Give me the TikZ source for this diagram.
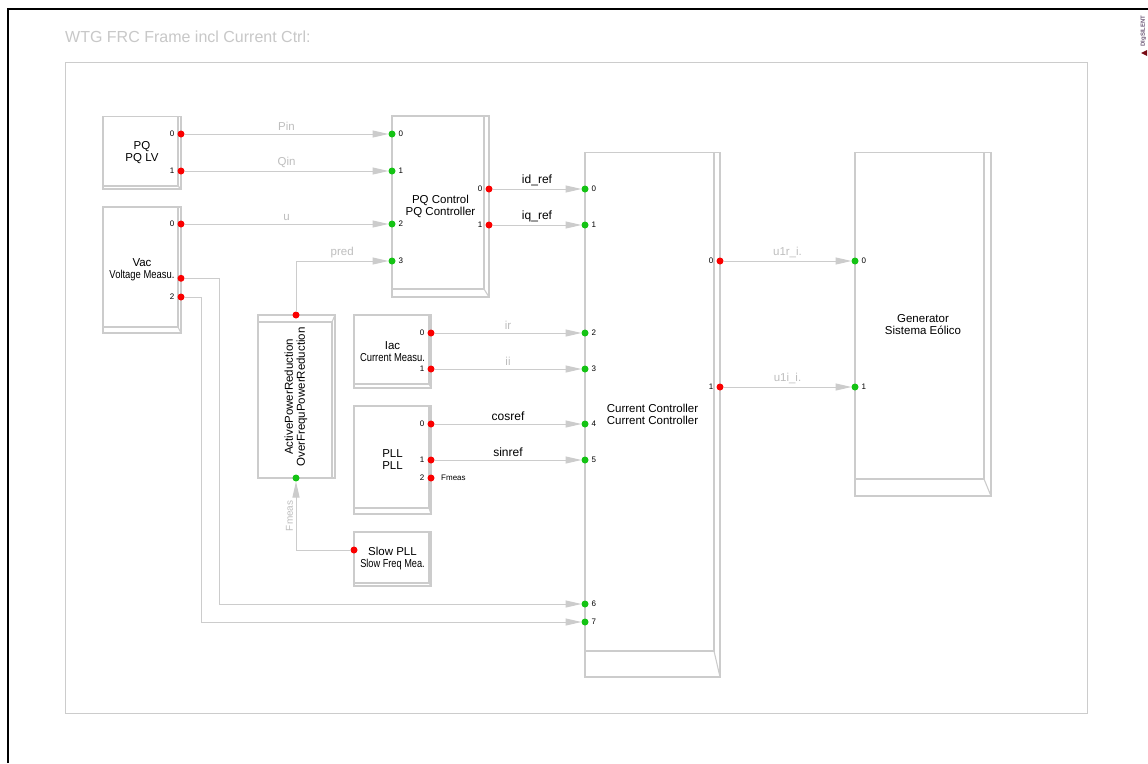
\documentclass[tikz,border=0pt]{standalone}
\usepackage{fontspec}
\setmainfont{Liberation Sans}
\usepackage{graphicx}
\usetikzlibrary{arrows.meta}
\definecolor{lgray}{RGB}{204,204,204}
\definecolor{tgray}{RGB}{190,190,190}
\definecolor{titlegray}{RGB}{200,200,200}
\definecolor{portred}{RGB}{250,0,0}
\definecolor{portgreen}{RGB}{20,195,20}
\definecolor{logored}{RGB}{120,10,20}
\definecolor{logotext}{RGB}{110,90,120}
\tikzset{
  blockbox/.style={draw=lgray, line width=1.3pt, rectangle, inner sep=0pt, outer sep=0pt, fill=white},
  bevel/.style={draw=lgray, line width=1.1pt},
  blocktext/.style={font=\fontsize{11.5}{12}\selectfont, align=center, inner sep=0pt, text=black},
  inport/.style={circle, fill=portgreen, minimum size=7pt, inner sep=0pt, outer sep=0pt},
  outport/.style={circle, fill=portred, minimum size=7pt, inner sep=0pt, outer sep=0pt},
  pnum/.style={font=\fontsize{8}{9}\selectfont, text=black, inner sep=0pt},
  conn/.style={draw=lgray, line width=1pt, -{Triangle[length=16pt,width=7pt]}},
  glbl/.style={above=3pt, inner sep=0pt, text=tgray, font=\fontsize{11.5}{12}\selectfont},
  blbl/.style={above=3pt, inner sep=0pt, text=black, font=\fontsize{12}{13}\selectfont},
}
\newcommand{\dsblock}[8]{%
  \node[blockbox, anchor=north west, minimum width={(#4-#2)*1pt}, minimum height={(#5-#3)*1pt}] (#1) at (#2,#3) {};
  \draw[bevel] ([xshift=-#6pt]#1.north east) -- ([xshift=-#6pt,yshift=#7pt]#1.south east) -- ([yshift=#7pt]#1.south west);
  \draw[bevel] ([xshift=-#6pt,yshift=#7pt]#1.south east) -- (#1.south east);
  \node[blocktext] (#1-text) at (#1.center) {#8};
}
\newcommand{\dsin}[4]{\node[inport, label={[pnum, label distance=3pt]right:#4}] (#1) at (#2,#3) {};}
\newcommand{\dsout}[4]{\node[outport, label={[pnum, label distance=3pt]left:#4}] (#1) at (#2,#3) {};}
\begin{document}
\begin{tikzpicture}[x=1pt,y=-1pt]
\useasboundingbox (0,0) rectangle (1148,763);
\fill[white] (0,0) rectangle (1148,763);
% page border
\draw[black, line width=2pt] (7.7,763) -- (7.7,9.3) -- (1148,9.3);
% logo
\node[rotate=90, font=\fontsize{6}{6}\selectfont\bfseries, text=logotext, inner sep=0pt] (logo) at (1143.5,31) {DIgSILENT};
\fill[logored] (1141,53) -- (1147,50) -- (1147,56) -- cycle;
% title
\node[anchor=base west, inner sep=0pt, text=titlegray, font=\fontsize{16}{19}\selectfont] (title) at (65,42.7) {WTG FRC Frame incl Current Ctrl:};
% frame
\draw[lgray, line width=1pt] (65,62.3) rectangle (1087,713);

% blocks
\dsblock{pq}{103}{116.5}{181}{189}{3}{3}{PQ\\PQ LV}
\dsblock{vac}{103}{207}{181}{333}{3}{6}{Vac\\\scalebox{0.82}[1]{Voltage Measu.}}
\dsblock{pqc}{392}{116}{489}{297}{5}{8}{PQ Control\\PQ Controller}
\dsblock{cc}{585}{152.5}{720}{677}{6}{26}{Current Controller\\Current Controller}
\dsblock{gen}{855}{152.5}{991}{496}{7}{17}{Generator\\Sistema Eólico}
\dsblock{iac}{354}{315}{431}{388}{2}{4}{Iac\\\scalebox{0.82}[1]{Current Measu.}}
\dsblock{pll}{354}{406}{431}{514}{2}{6}{PLL\\PLL}
\dsblock{spll}{354}{532}{431}{586}{2}{3}{Slow PLL\\\scalebox{0.8}[1]{Slow Freq Mea.}}
% rotated block
\node[blockbox, anchor=north west, minimum width=77pt, minimum height=163pt] (apr) at (258,315) {};
\draw[bevel] ([yshift=-7pt]apr.north west) -- ([xshift=-3pt,yshift=-7pt]apr.north east) -- ([xshift=-3pt]apr.south east);
\draw[bevel] ([xshift=-3pt,yshift=-7pt]apr.north east) -- (apr.north east);
\node[blocktext, rotate=90] (apr-text) at (296,397) {ActivePowerReduction\\OverFrequPowerReduction};

% ports
\dsout{pqo0}{181}{134}{0}
\dsout{pqo1}{181}{171}{1}
\dsout{vaco0}{181}{224}{0}
\node[outport] (vaco1) at (181,278.3) {};
\dsout{vaco2}{181}{297}{2}
\dsin{pqci0}{392}{134}{0}
\dsin{pqci1}{392}{171}{1}
\dsin{pqci2}{392}{224}{2}
\dsin{pqci3}{392}{261}{3}
\dsout{pqco0}{489}{189}{0}
\dsout{pqco1}{489}{225}{1}
\dsin{cci0}{585}{189}{0}
\dsin{cci1}{585}{225}{1}
\dsin{cci2}{585}{333}{2}
\dsin{cci3}{585}{369}{3}
\dsin{cci4}{585}{424}{4}
\dsin{cci5}{585}{460}{5}
\dsin{cci6}{585}{604}{6}
\dsin{cci7}{585}{622}{7}
\dsout{cco0}{720}{261}{0}
\dsout{cco1}{720}{387}{1}
\dsin{geni0}{855}{261}{0}
\dsin{geni1}{855}{387}{1}
\dsout{iaco0}{431}{333}{0}
\dsout{iaco1}{431}{369}{1}
\dsout{pllo0}{431}{424}{0}
\dsout{pllo1}{431}{460}{1}
\dsout{pllo2}{431}{478}{2}
\node[pnum, anchor=west] (fmeasout) at (441,478) {Fmeas};
\node[outport] (apro) at (296,315) {};
\node[inport] (apri) at (296,478) {};
\node[outport] (spllo) at (354,550) {};

% connectors
\draw[conn] (pqo0) -- node[glbl]{Pin} (pqci0);
\draw[conn] (pqo1) -- node[glbl]{Qin} (pqci1);
\draw[conn] (vaco0) -- node[glbl]{u} (pqci2);
\draw[conn] (apro) |- node[glbl, pos=0.75]{pred} (pqci3);
\draw[conn] (pqco0) -- node[blbl]{id\_ref} (cci0);
\draw[conn] (pqco1) -- node[blbl]{iq\_ref} (cci1);
\draw[conn] (iaco0) -- node[glbl]{ir} (cci2);
\draw[conn] (iaco1) -- node[glbl]{ii} (cci3);
\draw[conn] (pllo0) -- node[blbl]{cosref} (cci4);
\draw[conn] (pllo1) -- node[blbl]{sinref} (cci5);
\draw[conn] (cco0) -- node[glbl]{u1r\_i.} (geni0);
\draw[conn] (cco1) -- node[glbl]{u1i\_i.} (geni1);
\coordinate (v1c) at (219,278.3);
\coordinate (v2c) at (201,297);
\draw[conn] (vaco1) -- (v1c) |- (cci6);
\draw[conn] (vaco2) -- (v2c) |- (cci7);
\draw[conn] (spllo) -| node[pos=0.75, rotate=90, anchor=south, inner sep=0pt, outer sep=3pt, text=tgray, font=\fontsize{10}{11}\selectfont]{Fmeas} (apri);
\end{tikzpicture}
\end{document}
